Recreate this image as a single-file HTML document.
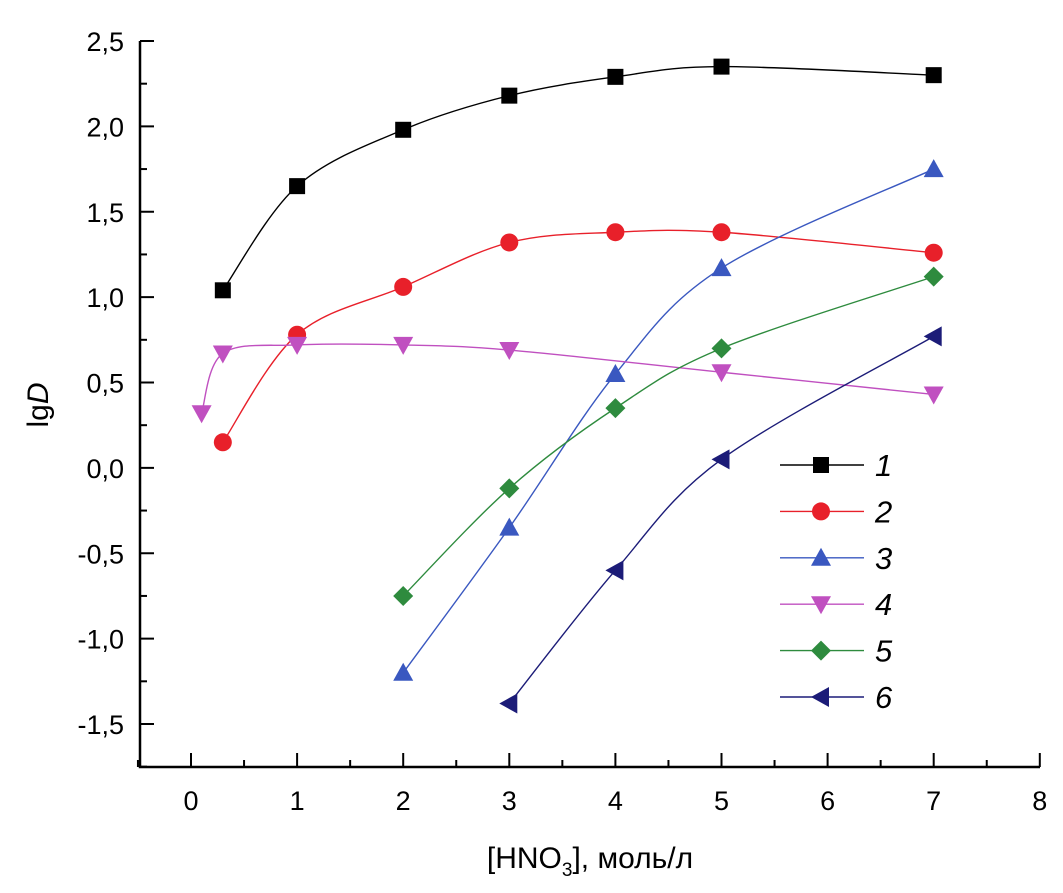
<!DOCTYPE html>
<html><head><meta charset="utf-8"><style>
body{margin:0;background:#fff}
svg{display:block;font-family:"Liberation Sans",sans-serif}
</style></head><body>
<svg id="c" width="1063" height="893"></svg>
<script>
const seriesNames=["1","2","3","4","5","6"];
const s1x=[0.3,1,2,3,4,5,7], s1y=[1.04,1.65,1.98,2.18,2.29,2.35,2.30];
const s2x=[0.3,1,2,3,4,5,7], s2y=[0.15,0.78,1.06,1.32,1.38,1.38,1.26];
const s3x=[2,3,4,5,7], s3y=[-1.2,-0.35,0.55,1.17,1.75];
const s4x=[0.1,0.3,1,2,3,5,7], s4y=[0.32,0.67,0.72,0.72,0.69,0.56,0.43];
const s5x=[2,3,4,5,7], s5y=[-0.75,-0.12,0.35,0.70,1.12];
const s6x=[3,4,5,7], s6y=[-1.38,-0.6,0.05,0.77];
const xTicks=[0,1,2,3,4,5,6,7,8];
const yTicks=[2.5,2.0,1.5,1.0,0.5,0.0,-0.5,-1.0,-1.5];
const yTickLabels=["2,5","2,0","1,5","1,0","0,5","0,0","-0,5","-1,0","-1,5"];

const X=v=>191+106.1*v, Y=v=>41+(2.5-v)*170.75;
const NS="http://www.w3.org/2000/svg", svg=document.getElementById('c');
function mk(t,a,p){const e=document.createElementNS(NS,t);for(const k in a)e.setAttribute(k,a[k]);(p||svg).appendChild(e);return e;}
const ax=mk('g',{});


mk('path',{d:`M140,41 V767 H1040`,stroke:'#000','stroke-width':2.5,fill:'none'},ax);
xTicks.forEach(v=>{mk('line',{x1:X(v),x2:X(v),y1:767,y2:753,stroke:'#000','stroke-width':2},ax);
 if(v<8)mk('line',{x1:X(v+0.5),x2:X(v+0.5),y1:767,y2:760,stroke:'#000','stroke-width':2},ax);
 const t=mk('text',{x:X(v),y:810,'text-anchor':'middle','font-size':27},ax);t.textContent=v;
 });
mk('line',{x1:X(-0.5),x2:X(-0.5),y1:767,y2:760,stroke:'#000','stroke-width':2},ax);
yTicks.forEach((v,i)=>{mk('line',{x1:140,x2:154,y1:Y(v),y2:Y(v),stroke:'#000','stroke-width':2},ax);
 mk('line',{x1:140,x2:147,y1:Y(v-0.25),y2:Y(v-0.25),stroke:'#000','stroke-width':2},ax);
 const t=mk('text',{x:124,y:Y(v)+10,'text-anchor':'end','font-size':27},ax);t.textContent=yTickLabels[i];
 });
const yl=mk('text',{x:48,y:405,'text-anchor':'middle','font-size':30,transform:'rotate(-90 48 405)'});
yl.innerHTML='lg<tspan font-style="italic">D</tspan>';

const xl=mk('text',{x:590,y:868,'text-anchor':'middle','font-size':30});
xl.innerHTML='[HNO<tspan font-size="19" dy="8">3</tspan><tspan dy="-8">], моль/л</tspan>';


function curve(xs,ys){const p=xs.map((x,i)=>[X(x),Y(ys[i])]);let d=`M${p[0][0]},${p[0][1]}`;
 for(let i=0;i<p.length-1;i++){const p0=p[i-1]||p[i],p1=p[i],p2=p[i+1],p3=p[i+2]||p2;
 d+=` C${p1[0]+(p2[0]-p0[0])/6},${p1[1]+(p2[1]-p0[1])/6} ${p2[0]-(p3[0]-p1[0])/6},${p2[1]-(p3[1]-p1[1])/6} ${p2[0]},${p2[1]}`;}return d;}
function marker(k,x,y,c,g){
 if(k==0)return mk('rect',{x:x-8,y:y-8,width:16,height:16,fill:c},g);
 if(k==1)return mk('circle',{cx:x,cy:y,r:9,fill:c},g);
 if(k==2)return mk('polygon',{points:`${x},${y-10} ${x+10},${y+8} ${x-10},${y+8}`,fill:c},g);
 if(k==3)return mk('polygon',{points:`${x},${y+10} ${x+10},${y-8} ${x-10},${y-8}`,fill:c},g);
 if(k==4)return mk('polygon',{points:`${x},${y-10} ${x+10},${y} ${x},${y+10} ${x-10},${y}`,fill:c},g);
 return mk('polygon',{points:`${x-10},${y} ${x+8},${y-10} ${x+8},${y+10}`,fill:c},g);}
const colors=['#000','#e8202a','#3a58c0','#c050c0','#2e8b3e','#1c1c78'];
const data=[[s1x,s1y],[s2x,s2y],[s3x,s3y],[s4x,s4y],[s5x,s5y],[s6x,s6y]];
data.forEach(([xs,ys],k)=>{const g=mk('g',{});
 
 mk('path',{d:curve(xs,ys),stroke:colors[k],'stroke-width':1.4,fill:'none'},g);
 xs.forEach((x,i)=>{const m=marker(k,X(x),Y(ys[i]),colors[k],g);
  });
 const ly=465+k*46.4, lg=mk('g',{});
 
 mk('line',{x1:780,x2:864,y1:ly,y2:ly,stroke:colors[k],'stroke-width':1.4},lg);
 marker(k,821,ly,colors[k],lg);
 const t=mk('text',{x:875,y:ly+11,'font-size':31,'font-style':'italic'},lg);t.textContent=seriesNames[k];});
</script>
</body></html>
